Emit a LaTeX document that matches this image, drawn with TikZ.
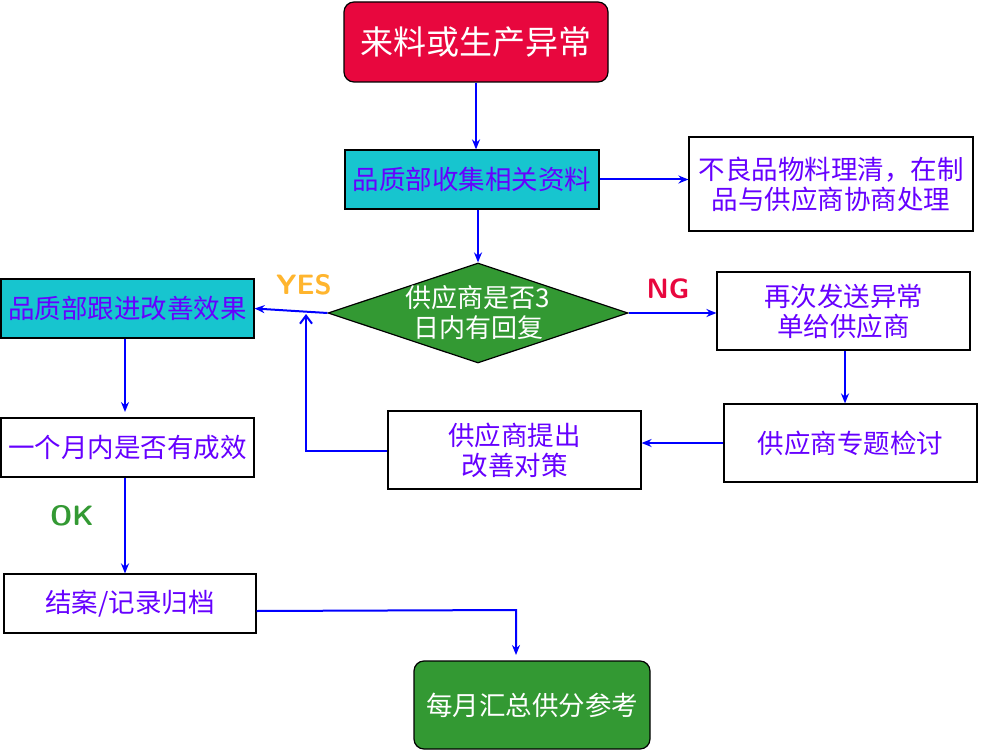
\documentclass[tikz,border=0pt]{standalone}
\usepackage{fontspec}
\setmainfont{Noto Sans CJK SC}
\usetikzlibrary{shapes.geometric,arrows.meta}
\definecolor{crim}{HTML}{E8073E}
\definecolor{cy}{HTML}{17C5CF}
\definecolor{gr}{HTML}{339933}
\definecolor{pu}{HTML}{6600FF}
\definecolor{ye}{HTML}{FFB52E}
\begin{document}
\begin{tikzpicture}[x=1pt,y=-1pt,
  box/.style={draw=black,line width=1.2pt,inner sep=0pt,align=center,text=pu,font=\fontsize{26.5}{30}\selectfont},
  arr/.style={draw=blue,line width=2pt,-{Stealth[length=10pt,width=8pt]}},
  lab/.style={font=\fontsize{28}{30}\selectfont\bfseries\sffamily}]
\useasboundingbox (0,0) rectangle (987,751);
\node[box,fill=crim,text=white,rounded corners=10pt,minimum width=264pt,minimum height=80pt,font=\fontsize{33}{36}\selectfont] (top) at (476,42) {来料或生产异常};
\node[box,fill=cy,minimum width=254pt,minimum height=59pt] (col) at (472,179.5) {品质部收集相关资料};
\node[box,minimum width=284pt,minimum height=94pt] (rb) at (831,184) {不良品物料理清，在制\\品与供应商协商处理};
\node[diamond,draw=black,line width=1.2pt,fill=gr,aspect=3,minimum width=300pt,minimum height=100pt,inner sep=0pt] (dia) at (478,313) {};
\node[text=white,align=center,font=\fontsize{26}{30}\selectfont] at (478,313) {供应商是否3\\日内有回复};
\node[lab,text=ye] (yes) at (304,285) {YES};
\node[lab,text=crim] (ng) at (668,289) {NG};
\node[box,fill=cy,minimum width=253pt,minimum height=59pt] (gj) at (127.5,308.5) {品质部跟进改善效果};
\node[box,minimum width=253pt,minimum height=78pt] (zc) at (843.5,311) {再次发送异常\\单给供应商};
\node[box,minimum width=253pt,minimum height=59pt] (yg) at (127.5,447.5) {一个月内是否有成效};
\node[box,minimum width=253pt,minimum height=78pt] (tc) at (514.5,450) {供应商提出\\改善对策};
\node[box,minimum width=253pt,minimum height=78pt] (zt) at (850.5,443) {供应商专题检讨};
\node[lab,text=gr] (ok) at (72,516) {OK};
\node[box,minimum width=252pt,minimum height=59pt] (ja) at (130,603.5) {结案/记录归档};
\node[box,fill=gr,text=white,rounded corners=10pt,minimum width=236pt,minimum height=88pt] (my) at (532,705) {每月汇总供分参考};
\coordinate (c1) at (306,451);
\coordinate (c2) at (306,314);
\coordinate (c3) at (516,610);
\coordinate (c4) at (516,655);
\draw[arr] (top.south) -- (col.north -| top.south);
\draw[arr] (col.east) -- (rb.west |- col.east);
\draw[arr] (col.south -| dia.north) -- (dia.north);
\draw[arr] (dia.west) -- (gj.east);
\draw[arr] (dia.east) -- (zc.west |- dia.east);
\draw[arr] (zc.south -| 845,0) -- (zt.north -| 845,0);
\draw[arr] (zt.west) -- (tc.east |- zt.west);
\draw[draw=blue,line width=2pt,-{Straight Barb[length=8pt,width=12pt]}] (tc.west |- c1) -- (c1) -- (c2);
\draw[arr] (gj.south -| 125,0) -- (125,412);
\draw[arr] (yg.south -| 125,0) -- (ja.north -| 125,0);
\draw[arr] (ja.east |- 0,611) -- (c3) -- (c4);
\end{tikzpicture}
\end{document}
